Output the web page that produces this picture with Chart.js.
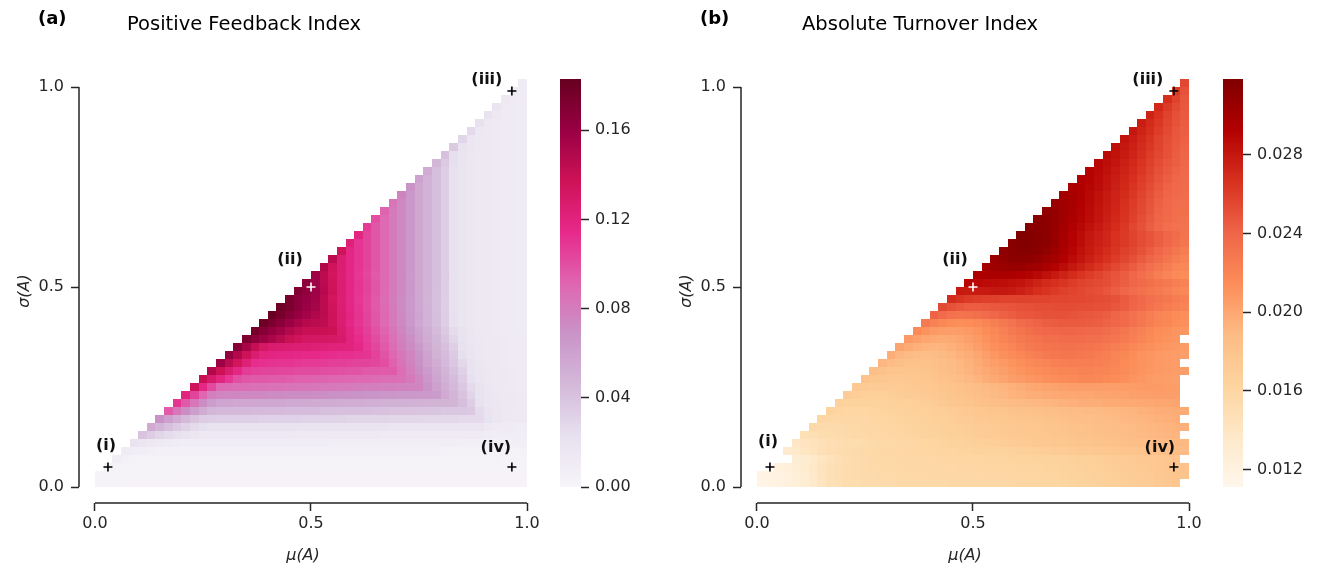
<!DOCTYPE html>
<html>
<head>
<meta charset="utf-8">
<script src="https://cdn.jsdelivr.net/npm/chart.js@4.4.0/dist/chart.umd.min.js"></script>
<style>
  html, body { margin: 0; padding: 0; background: #fff; }
  body { width: 1319px; height: 568px; position: relative; overflow: hidden; }
  canvas { position: absolute; top: 0; }
</style>
</head>
<body>
<canvas id="heatA" style="left:0px" width="560" height="568"></canvas>
<canvas id="barA" style="left:540px" width="120" height="568"></canvas>
<canvas id="heatB" style="left:662px" width="560" height="568"></canvas>
<canvas id="barB" style="left:1203px" width="116" height="568"></canvas>
<script>
// grid: left edges of the mu(A) columns, lower edges of the sigma(A) rows
const MU = [0.00,0.02,0.04,0.06,0.08,0.10,0.12,0.14,0.16,0.18,0.20,0.22,0.24,0.26,0.28,0.30,0.32,0.34,0.36,0.38,
  0.40,0.42,0.44,0.46,0.48,0.50,0.52,0.54,0.56,0.58,0.60,0.62,0.64,0.66,0.68,0.70,0.72,0.74,0.76,0.78,
  0.80,0.82,0.84,0.86,0.88,0.90,0.92,0.94,0.96,0.98];
const SIGMA = [0.00,0.02,0.04,0.06,0.08,0.10,0.12,0.14,0.16,0.18,0.20,0.22,0.24,0.26,0.28,0.30,0.32,0.34,0.36,0.38,
  0.40,0.42,0.44,0.46,0.48,0.50,0.52,0.54,0.56,0.58,0.60,0.62,0.64,0.66,0.68,0.70,0.72,0.74,0.76,0.78,
  0.80,0.82,0.84,0.86,0.88,0.90,0.92,0.94,0.96,0.98,1.00];
const CELL = 0.02;

// Positive Feedback Index, x1e-3, one row per sigma, each row runs up to mu = 0.98
const PFI = [
  [3,3,3,3,2,2,2,2,2,2,2,2,2,2,2,2,2,2,2,2,2,2,2,2,2,2,2,2,2,2,2,2,2,2,2,2,2,2,2,2,2,2,2,2,2,2,2,2,2,2],
  [3,3,3,3,3,3,3,3,3,3,2,2,2,2,2,2,2,2,2,2,2,2,2,2,2,2,2,2,2,2,2,2,2,2,2,2,2,2,2,2,2,2,2,2,2,2,2,2,2,2],
  [4,4,3,3,3,3,3,3,3,3,3,3,3,3,3,3,3,3,3,3,3,3,3,3,3,3,3,3,3,3,3,3,3,3,3,3,3,3,3,3,3,3,3,3,3,3,3,3,3],
  [7,5,4,4,4,4,4,4,4,4,4,4,4,4,4,4,4,4,4,4,4,4,4,4,4,4,4,4,4,4,4,4,4,4,4,4,4,4,4,4,4,4,4,4,4,3,3,3],
  [10,8,7,6,5,5,5,5,5,5,5,5,5,5,5,5,5,5,5,5,5,5,5,5,5,5,5,5,5,5,5,5,5,5,5,5,5,4,4,4,4,4,4,4,4,4,4],
  [20,17,15,13,11,10,9,8,8,8,8,8,8,8,8,8,8,8,8,8,8,8,8,7,7,7,7,7,7,7,7,7,7,7,7,7,7,7,6,6,6,6,6,6,6,6],
  [40,35,30,26,23,20,17,15,14,14,14,14,14,14,14,14,14,14,13,13,13,13,13,13,13,13,13,13,12,12,12,12,12,12,12,12,12,12,12,12,10,9,8,8,7],
  [55,48,42,36,31,27,24,21,20,20,20,20,20,20,20,20,20,20,19,19,19,19,19,19,19,19,19,19,18,18,18,18,18,18,18,18,18,18,18,15,12,11,10,9],
  [70,61,53,46,40,35,34,33,33,33,33,33,32,32,32,32,32,31,31,31,31,31,30,30,30,30,30,29,29,29,29,28,28,28,28,27,27,27,21,17,15,14,14],
  [95,83,72,62,54,47,46,46,46,46,45,45,45,45,44,44,44,44,43,43,42,42,42,42,41,41,40,40,40,39,39,39,38,38,38,37,26,19,17,15,14,13],
  [110,96,83,72,63,58,58,57,57,57,56,56,56,55,55,55,54,54,54,53,53,53,52,52,51,51,51,50,50,49,49,49,48,43,34,22,18,16,15,14,13],
  [120,104,91,79,76,75,75,74,74,74,73,73,72,72,72,71,71,70,70,69,69,68,68,67,67,66,66,65,65,64,55,48,40,30,21,17,16,15,14,13],
  [135,117,102,89,88,87,87,86,86,85,85,84,84,83,83,82,82,81,81,80,79,79,78,78,77,77,76,69,61,53,46,38,27,20,17,15,14,13,12],
  [140,129,118,109,100,97,96,96,95,95,94,93,93,92,92,91,91,90,89,89,88,87,87,86,82,75,67,58,51,44,35,23,18,16,15,14,13,12],
  [150,138,127,117,107,105,104,104,103,103,102,101,101,100,100,99,98,98,96,96,95,95,87,79,72,64,56,49,41,32,21,18,16,15,14,13,12],
  [158,145,134,123,113,112,111,110,110,109,108,108,107,106,106,105,104,104,103,100,93,85,77,70,61,53,46,38,28,20,17,15,14,13,12,11],
  [162,149,137,126,119,118,117,117,116,115,115,114,113,112,112,111,110,105,98,91,83,76,68,59,51,44,36,24,19,16,15,14,13,12,11],
  [167,154,141,130,127,126,125,124,124,123,122,121,121,120,116,109,103,96,88,80,73,65,56,49,42,33,22,18,16,15,14,13,12,11],
  [172,165,158,152,146,140,135,132,131,131,130,129,120,114,108,101,94,86,78,71,62,54,47,39,29,20,17,16,15,14,13,12,11],
  [176,169,162,156,149,143,140,140,139,138,127,119,112,106,99,92,84,76,68,60,52,45,36,26,20,17,15,14,13,12,11,10],
  [180,173,166,159,153,147,145,144,135,125,117,110,104,97,89,81,74,66,57,50,43,34,22,18,16,15,14,13,12,11,10],
  [182,175,168,161,155,150,145,136,126,118,111,104,97,90,82,74,66,58,50,43,34,23,18,16,15,14,13,12,11,10],
  [180,173,166,159,154,145,135,125,117,110,103,96,89,81,73,65,57,50,42,33,22,18,16,15,14,13,12,11,10],
  [173,166,160,155,145,134,124,116,109,103,96,88,80,73,65,56,49,42,34,22,18,16,15,14,13,12,11,10],
  [170,164,157,147,136,125,117,110,104,97,89,81,74,66,57,50,43,34,22,18,16,15,14,13,12,11,10],
  [165,157,146,135,125,117,110,104,97,89,81,74,66,57,50,43,34,22,18,16,15,14,13,12,11,10],
  [157,145,134,124,116,109,103,96,89,81,74,65,57,50,43,35,22,18,16,15,14,13,12,11,10],
  [150,135,125,117,110,104,97,89,81,74,66,57,50,43,34,22,18,16,15,14,13,12,11,10],
  [145,125,117,110,104,97,89,81,74,66,57,50,43,34,22,18,16,15,14,13,12,11,10],
  [135,117,110,104,97,89,81,74,66,57,50,43,34,22,18,16,15,14,13,12,11,10],
  [123,110,104,97,89,81,74,66,57,50,43,34,22,18,16,15,14,13,12,11,10],
  [118,104,97,89,81,74,66,57,50,43,34,22,18,16,15,14,13,12,11,10],
  [108,97,89,81,74,66,57,50,43,34,22,18,16,15,14,13,12,11,10],
  [100,89,81,74,66,57,50,43,34,22,18,16,15,14,13,12,11,10],
  [92,81,74,66,57,50,43,34,22,18,16,15,14,13,12,11,10],
  [84,74,66,57,50,43,34,22,18,16,15,14,13,12,11,10],
  [77,66,57,50,43,34,22,18,16,15,14,13,12,11,10],
  [69,57,50,43,34,22,18,16,15,14,13,12,11,10],
  [60,50,43,34,22,18,16,15,14,13,12,11,10],
  [54,43,34,22,18,16,15,14,13,12,11,10],
  [47,36,24,18,16,15,14,13,12,11,10],
  [42,24,19,16,15,14,13,12,11,10],
  [36,20,17,15,14,13,12,11,10],
  [30,17,15,14,13,12,11,10],
  [27,16,14,13,12,11,10],
  [22,15,13,12,11,10],
  [20,14,12,11,10],
  [18,13,11,10],
  [15,12,10],
  [12,10],
  [10]
];

// Absolute Turnover Index, x1e-4, null = empty cell
const ATI = [
  [116,117,119,121,124,128,135,142,147,150,152,153,154,154,155,155,156,156,156,157,157,157,158,158,158,158,159,159,159,159,160,160,160,161,161,162,163,164,165,166,167,168,169,170,171,172,174,176,178,null],
  [117,118,120,122,125,129,136,143,148,151,153,154,155,155,156,156,157,157,157,158,158,158,159,159,159,159,160,160,160,160,161,161,161,162,162,163,164,165,166,167,168,169,170,171,172,173,175,177,179,181],
  [122,124,127,131,137,143,148,151,153,154,155,156,156,157,157,158,158,158,159,159,159,160,160,160,160,161,161,161,162,162,162,163,163,164,165,166,167,168,169,170,171,172,173,174,176,178,180,182],
  [128,131,135,140,145,149,152,154,155,156,157,157,158,158,159,159,160,160,160,161,161,161,162,162,162,163,163,163,164,164,165,165,166,167,168,169,170,171,172,173,174,175,176,178,180,null],
  [133,136,140,144,148,151,153,154,155,156,157,158,159,159,160,160,161,161,162,162,163,163,164,164,165,165,166,167,168,169,170,171,172,173,174,175,176,177,178,179,180,181,182,184,186,187,188],
  [139,142,145,147,149,151,152,153,154,155,156,157,158,159,160,161,162,163,164,165,166,167,168,169,170,171,172,173,174,175,176,177,178,179,180,181,182,183,184,185,186,187,188,189,190,190],
  [148,150,152,153,154,155,156,157,158,159,160,161,162,163,164,165,166,167,168,169,170,171,172,173,174,175,176,177,178,179,180,181,182,183,184,185,186,187,188,189,190,191,192,193,null],
  [156,155,155,155,156,157,158,159,160,161,162,163,164,165,166,167,168,169,170,171,172,173,174,175,176,177,178,179,180,181,182,183,184,185,186,187,188,189,190,191,192,193,194,195],
  [160,159,158,158,158,159,160,161,162,163,164,165,166,167,168,169,171,172,174,175,176,177,178,179,180,181,182,183,184,185,186,186,187,188,189,190,191,192,193,194,195,196,null],
  [163,162,161,161,161,162,163,164,165,166,167,168,169,170,172,173,175,176,178,179,180,181,182,183,184,185,186,187,188,188,189,189,190,191,192,193,194,195,196,197,198,198],
  [166,165,164,164,164,165,166,167,168,169,170,172,174,176,178,180,182,184,185,187,188,189,190,191,192,193,194,195,196,197,197,198,198,199,199,200,200,201,201,202,null],
  [171,169,168,168,168,169,170,171,172,173,175,177,179,181,183,185,187,189,191,193,194,196,197,198,199,200,200,201,201,202,202,203,203,204,204,205,205,205,205,null],
  [175,173,172,171,171,172,173,174,175,177,179,181,183,185,187,189,191,193,195,197,199,201,202,203,204,205,205,205,205,205,205,206,206,207,207,207,206,206,null],
  [181,178,176,175,175,176,177,178,180,182,184,187,190,193,196,199,202,205,207,209,211,213,215,216,217,218,218,218,217,215,213,211,209,207,206,205,204,null],
  [185,182,180,179,179,180,181,183,185,187,190,193,196,199,202,205,208,211,213,215,217,219,220,221,222,222,221,220,218,216,213,211,209,208,207,206,205],
  [192,188,185,183,182,183,184,186,188,191,194,198,202,205,208,211,214,217,219,221,223,224,225,225,225,224,222,220,217,214,212,210,208,207,206,null],
  [196,192,189,187,186,187,189,191,194,197,201,205,209,213,216,219,222,225,227,229,230,230,229,228,226,224,221,218,215,212,210,208,207,206,205],
  [202,198,195,193,192,193,195,198,201,205,209,213,217,221,224,227,229,231,232,233,233,232,231,229,227,225,222,219,216,213,211,209,208,207],
  [208,204,201,199,198,199,201,204,208,212,216,220,224,227,230,232,234,235,236,236,236,235,234,232,230,227,224,220,217,214,212,210,null],
  [217,212,208,206,205,206,208,211,215,219,223,227,231,234,237,239,240,241,241,240,239,238,236,233,230,226,222,218,215,213,211,210],
  [227,222,218,215,214,215,217,220,224,228,232,236,239,242,244,245,246,246,246,245,244,242,240,237,233,229,225,221,218,215,213],
  [242,237,233,231,232,234,237,240,243,245,247,248,249,250,250,250,249,248,247,246,244,241,237,233,229,225,221,218,216,214],
  [254,250,247,245,245,246,247,248,249,250,251,252,252,253,253,253,252,252,251,250,248,245,241,237,233,229,226,223,220],
  [269,265,262,260,259,259,258,258,258,258,257,257,256,256,255,255,254,253,252,250,246,242,238,235,232,229,226,223],
  [279,278,278,279,280,280,279,276,272,268,265,262,259,257,255,253,251,248,244,240,236,233,230,227,224,221,218],
  [290,288,287,286,285,284,282,278,274,270,267,264,261,258,256,254,252,248,244,240,237,234,231,228,225,222],
  [295,296,297,297,296,294,291,288,284,279,274,269,265,261,257,253,249,245,240,235,230,225,220,217,215],
  [300,303,305,306,306,304,301,297,292,286,280,275,270,265,260,255,250,245,240,235,230,225,221,218],
  [305,309,311,312,311,308,304,299,293,287,281,276,271,266,261,256,251,246,241,236,231,226,222],
  [310,313,315,315,313,309,303,296,290,284,279,274,269,264,259,255,250,245,240,235,230,226],
  [313,316,317,315,312,306,298,292,286,280,276,272,266,262,258,253,249,244,240,235,230],
  [318,316,314,312,305,298,292,286,280,276,272,266,262,258,253,249,245,241,236,232],
  [315,314,311,306,300,294,289,284,279,274,269,263,256,250,244,239,235,233,232],
  [313,311,307,302,296,291,286,281,276,271,265,259,252,246,241,237,234,233],
  [310,307,302,297,292,287,282,277,272,266,260,254,248,242,238,235,234],
  [305,302,298,293,288,283,278,273,267,261,255,249,243,239,236,235],
  [300,298,294,289,284,279,274,269,263,257,251,245,241,238,236],
  [296,294,290,286,281,276,271,265,259,253,247,242,239,237],
  [293,291,287,282,277,272,267,261,255,249,244,240,238],
  [291,288,284,279,274,269,263,257,251,246,242,239],
  [289,285,281,276,271,265,259,253,248,244,240],
  [287,283,278,273,267,261,255,250,245,241],
  [285,280,275,269,263,257,251,246,242],
  [282,277,271,265,258,252,247,243],
  [280,274,268,261,254,248,244],
  [277,270,263,256,250,245],
  [274,266,258,251,246],
  [271,262,254,247],
  [268,258,248],
  [262,250],
  [255]
];

// marked parameter sets
const POINT_NAMES = ['(i)', '(ii)', '(iii)', '(iv)'];
const POINT_MU = [0.03, 0.5, 0.965, 0.965];
const POINT_SIGMA = [0.05, 0.5, 0.99, 0.05];

const AXIS_TICKS = [0, 0.5, 1];
const BAR_TICKS_A = [0, 0.04, 0.08, 0.12, 0.16];
const BAR_TICKS_B = [0.012, 0.016, 0.020, 0.024, 0.028];
const RANGE_A = [0, 0.183];
const RANGE_B = [0.01112, 0.03185];

const PURD = ['#f7f4f9','#e7e1ef','#d4b9da','#c994c7','#df65b0','#e7298a','#ce1256','#980043','#67001f'];
const ORRD = ['#fff7ec','#fee8c8','#fdd49e','#fdbb84','#fc8d59','#ef6548','#d7301f','#b30000','#7f0000'];

const INK = '#262626';
Chart.defaults.font.family = "'DejaVu Sans', sans-serif";
Chart.defaults.color = INK;

function hexRgb(h) {
  return [1, 3, 5].map(p => parseInt(h.slice(p, p + 2), 16));
}

function colourAt(stops, t) {
  t = Math.max(0, Math.min(1, t));
  const p = t * (stops.length - 1);
  const k = Math.min(stops.length - 2, Math.floor(p));
  const f = p - k;
  const a = hexRgb(stops[k]), b = hexRgb(stops[k + 1]);
  const c = a.map((v, n) => Math.round(v + (b[n] - v) * f));
  return 'rgb(' + c.join(',') + ')';
}

function heatChart(id, rows, unit, stops, range, crossColours, labelShift, tag, title, titleX) {
  const cells = {
    id: 'cells',
    beforeDatasetsDraw(chart) {
      const { ctx, scales: { x, y } } = chart;
      ctx.save();
      rows.forEach((row, j) => {
        const first = MU.length - row.length;
        row.forEach((v, k) => {
          if (v === null) return;
          const i = first + k;
          const x0 = Math.round(x.getPixelForValue(MU[i]));
          const x1 = Math.round(x.getPixelForValue(MU[i] + CELL));
          const y0 = Math.round(y.getPixelForValue(SIGMA[j] + CELL));
          const y1 = Math.round(y.getPixelForValue(SIGMA[j]));
          ctx.fillStyle = colourAt(stops, (v * unit - range[0]) / (range[1] - range[0]));
          ctx.fillRect(x0, y0, x1 - x0, y1 - y0);
        });
      });
      // trimmed spines, offset from the data like seaborn's despine
      const a = chart.chartArea;
      ctx.strokeStyle = INK;
      ctx.lineWidth = 1.5;
      ctx.beginPath();
      ctx.moveTo(x.getPixelForValue(0), a.bottom);
      ctx.lineTo(x.getPixelForValue(1), a.bottom);
      ctx.moveTo(a.left, y.getPixelForValue(0));
      ctx.lineTo(a.left, y.getPixelForValue(1));
      ctx.stroke();
      ctx.restore();
    },
    afterDatasetsDraw(chart) {
      const ctx = chart.ctx;
      const pts = chart.getDatasetMeta(0).data;
      ctx.save();
      ctx.fillStyle = '#111';
      ctx.font = 'bold 16px "DejaVu Sans"';
      ctx.textAlign = 'center';
      ctx.textBaseline = 'middle';
      POINT_NAMES.forEach((name, k) => {
        ctx.fillText(name, pts[k].x + labelShift[k][0], pts[k].y + labelShift[k][1]);
      });
      ctx.textAlign = 'left';
      ctx.textBaseline = 'alphabetic';
      ctx.fillStyle = '#000';
      ctx.font = 'bold 18px "DejaVu Sans"';
      ctx.fillText(tag, 38, 24);
      ctx.font = '19.5px "DejaVu Sans"';
      ctx.fillText(title, titleX, 30);
      ctx.restore();
    }
  };

  return new Chart(document.getElementById(id), {
    type: 'scatter',
    data: {
      datasets: [{
        data: POINT_MU.map((m, k) => ({ x: m, y: POINT_SIGMA[k] })),
        pointStyle: 'cross',
        pointRadius: 4.5,
        pointBorderWidth: 1.6,
        pointBorderColor: crossColours
      }]
    },
    options: {
      responsive: false,
      animation: false,
      events: [],
      layout: { padding: { left: 0, top: 79, right: 33, bottom: 0 } },
      plugins: { legend: { display: false }, tooltip: { enabled: false } },
      scales: {
        x: {
          min: -0.037, max: 1,
          afterBuildTicks: s => { s.ticks = AXIS_TICKS.map(v => ({ value: v })); },
          afterFit: s => { s.height = 65; },
          ticks: { callback: v => v.toFixed(1), font: { size: 16 }, color: INK, padding: 3, autoSkip: false, maxRotation: 0 },
          grid: { drawOnChartArea: false, tickLength: 8, tickWidth: 1.5, tickColor: INK },
          border: { display: false },
          title: { display: true, text: 'μ(A)', font: { size: 16, style: 'italic' }, color: INK, padding: { top: 0, bottom: 3 } }
        },
        y: {
          min: -0.04, max: 1.02,
          afterBuildTicks: s => { s.ticks = AXIS_TICKS.map(v => ({ value: v })); },
          afterFit: s => { s.width = 79; },
          ticks: { callback: v => v.toFixed(1), font: { size: 16 }, color: INK, padding: 7, autoSkip: false },
          grid: { drawOnChartArea: false, tickLength: 8, tickWidth: 1.5, tickColor: INK },
          border: { display: false },
          title: { display: true, text: 'σ(A)', font: { size: 16, style: 'italic' }, color: INK, padding: { top: 15, bottom: 0 } }
        }
      }
    },
    plugins: [cells]
  });
}

function colourBar(id, stops, range, ticks, digits, axisWidth) {
  const strip = {
    id: 'strip',
    beforeDatasetsDraw(chart) {
      const { ctx, chartArea: a, scales: { y } } = chart;
      for (let py = Math.round(a.top); py < Math.round(a.bottom); py++) {
        const v = y.getValueForPixel(py + 0.5);
        ctx.fillStyle = colourAt(stops, (v - range[0]) / (range[1] - range[0]));
        ctx.fillRect(Math.round(a.left), py, Math.round(a.right) - Math.round(a.left), 1);
      }
    }
  };
  return new Chart(document.getElementById(id), {
    type: 'scatter',
    data: { datasets: [] },
    options: {
      responsive: false,
      animation: false,
      events: [],
      layout: { padding: { left: 20, top: 79, right: 0, bottom: 81 } },
      plugins: { legend: { display: false }, tooltip: { enabled: false } },
      scales: {
        x: { display: false, min: 0, max: 1 },
        y: {
          position: 'right',
          min: range[0], max: range[1],
          afterBuildTicks: s => { s.ticks = ticks.map(v => ({ value: v })); },
          afterFit: s => { s.width = axisWidth; },
          ticks: { callback: v => v.toFixed(digits), font: { size: 16 }, color: INK, padding: 6, autoSkip: false },
          grid: { drawOnChartArea: false, tickLength: 8, tickWidth: 1.5, tickColor: INK },
          border: { display: false }
        }
      }
    },
    plugins: [strip]
  });
}

heatChart('heatA', PFI, 0.001, PURD, RANGE_A,
  ['#000', '#fff', '#000', '#000'],
  [[-2, -21], [-21, -27], [-25, -11], [-16, -19]],
  '(a)', 'Positive Feedback Index', 127);
colourBar('barA', PURD, RANGE_A, BAR_TICKS_A, 2, 79);

heatChart('heatB', ATI, 0.0001, ORRD, RANGE_B,
  ['#000', '#fff', '#000', '#000'],
  [[-2, -25], [-18, -27], [-26, -11], [-14, -19]],
  '(b)', 'Absolute Turnover Index', 140);
colourBar('barB', ORRD, RANGE_B, BAR_TICKS_B, 3, 76);
</script>
</body>
</html>
